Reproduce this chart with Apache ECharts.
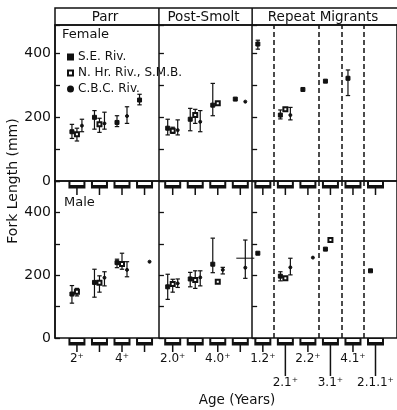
<!DOCTYPE html>
<html>
<head>
<meta charset="utf-8">
<script src="https://cdn.jsdelivr.net/npm/echarts@6/dist/echarts.min.js"></script>
<style>
  html, body { margin: 0; padding: 0; background: #fff; }
  #chart { width: 397px; height: 410px; }
</style>
</head>
<body>
<div id="chart"></div>
<script>
// Age classes along the x axis, grouped by life-history stage
const categories = ['2+', '3+', '4+', '5+', '2.0+', '3.0+', '4.0+', '5.0+', '1.2+', '2.1+', '2.2+', '3.1+', '4.1+', '2.1.1+'];
const categoryStage = [0, 0, 0, 0, 1, 1, 1, 1, 2, 2, 2, 2, 2, 2];
const stages = ['Parr', 'Post-Smolt', 'Repeat Migrants'];
const tickLabels = ['2⁺', '', '4⁺', '', '2.0⁺', '', '4.0⁺', '', '1.2⁺', '2.1⁺', '2.2⁺', '3.1⁺', '4.1⁺', '2.1.1⁺'];
// dashed dividers inside the repeat-migrant block, drawn after these classes
const dividersAfter = [8, 10, 11, 12];
const rivers = ['S.E. Riv.', 'N. Hr. Riv., S.M.B.', 'C.B.C. Riv.'];

// Fork length (mm) — females
const femaleSEMean = [154, 199, 183, 253, 165, 193, 237, 256, 428, 206, 286, 312, 321, null];
const femaleSELow  = [133, 162, 170, 238, 144, 157, 204, null, 412, 194, null, null, 267, null];
const femaleSEHigh = [177, 220, 204, 271, 193, 227, 305, null, 440, 222, null, null, 347, null];

const femaleNHMean = [146, 177, null, null, 157, 206, 243, null, null, 224, null, null, null, null];
const femaleNHLow  = [125, 152, null, null, 149, 180, null, null, null, null, null, null, null, null];
const femaleNHHigh = [165, 196, null, null, 168, 224, null, null, null, null, null, null, null, null];

const femaleCBCMean = [173, 180, 203, null, 159, 185, null, 248, null, 206, null, null, null, null];
const femaleCBCLow  = [154, 162, 180, null, 144, 154, null, null, null, 191, null, null, null, null];
const femaleCBCHigh = [193, 215, 232, null, 191, 220, null, null, null, 230, null, null, null, null];

// Fork length (mm) — males
const maleSEMean = [140, 177, 240, null, 163, 188, 235, null, 270, 197, null, 283, null, 214];
const maleSELow  = [111, 130, 224, null, 123, 163, 208, null, null, 182, null, null, null, null];
const maleSEHigh = [167, 219, 251, null, 203, 209, 318, null, null, 211, null, null, null, null];

const maleNHMean = [147, 176, 236, null, 172, 185, 179, null, null, 190, null, 312, null, null];
const maleNHLow  = [134, 146, 219, null, 146, 158, null, null, null, null, null, null, null, null];
const maleNHHigh = [158, 198, 270, null, 187, 214, null, null, null, null, null, null, null, null];

const maleCBCMean = [null, 192, 217, 243, 174, 193, 217, 224, null, 225, 256, null, null, null];
const maleCBCLow  = [null, 166, 195, null, 161, 166, 204, 190, null, 201, null, null, null, null];
const maleCBCHigh = [null, 211, 243, null, 188, 214, 225, 312, null, 254, null, null, null, null];

// pooled male mean for the oldest post-smolt class
const malePooledMean = [null, null, null, null, null, null, null, 254, null, null, null, null, null, null];

// ---------- layout ----------
const FONT = 'DejaVu Sans';
const INK = '#111';
const GL = 55, GW = 343;                 // shared left edge / width of both panels
const panels = [
  { top: 25, height: 156, yMax: 487.5 },  // female
  { top: 181, height: 157, yMax: 500 }    // male
];
// x positions: one unit per age class, a small extra gap after the parr block
const pos = categories.map((c, i) => i + (categoryStage[i] > 0 ? 0.25 : 0));
const xMin = -0.9735, xMax = 14.204;
const pxOf = v => GL + (v - xMin) / (xMax - xMin) * GW;

// stage boundaries sit midway between the neighbouring classes
const stageSeps = [];
for (let i = 1; i < categories.length; i++) {
  if (categoryStage[i] !== categoryStage[i - 1]) stageSeps.push((pos[i - 1] + pos[i]) / 2);
}
const dividerVals = dividersAfter.map(i => (pos[i] + pos[i + 1]) / 2);

const lineStyle = { color: INK, width: 1.5 };

const grids = panels.map(p => ({
  left: GL, top: p.top, width: GW, height: p.height,
  show: true, borderColor: INK, borderWidth: 1.5, backgroundColor: 'transparent'
}));

const xAxes = panels.map((p, g) => ({
  gridIndex: g, type: 'value', min: xMin, max: xMax,
  axisLine: { show: false, onZero: false }, axisTick: { show: false }, splitLine: { show: false },
  axisLabel: g === 1 ? {
    show: true,
    // an empty slot at the axis end keeps the last class label from being dropped
    customValues: pos.concat([xMax]),
    showMinLabel: true, showMaxLabel: false, hideOverlap: false,
    fontFamily: FONT, fontSize: 12, color: INK, lineHeight: 24, margin: 9,
    formatter: v => {
      const i = pos.findIndex(q => Math.abs(q - v) < 1e-6);
      if (i < 0) return '';
      const t = tickLabels[i];
      // repeat-migrant labels alternate between two rows
      const inRepeat = categoryStage[i] === 2;
      const k = i - categoryStage.indexOf(2);
      return inRepeat && k % 2 === 1 ? '\n' + t : t;
    }
  } : { show: false }
}));

const yAxes = [];
panels.forEach((p, g) => {
  const base = {
    gridIndex: g, type: 'value', position: 'left', min: 0, max: p.yMax, interval: 100,
    axisLine: { show: true, onZero: false, lineStyle },
    axisTick: { show: true, inside: true, length: 5, lineStyle: { color: INK, width: 1.3 } },
    splitLine: { show: false }
  };
  yAxes.push(Object.assign({}, base, {
    axisLabel: {
      show: true, fontFamily: FONT, fontSize: 14, color: INK, margin: 4,
      formatter: v => (v % 200 === 0 ? String(v) : '')
    }
  }));
  stageSeps.forEach(s => {
    yAxes.push(Object.assign({}, base, {
      offset: -(pxOf(s) - GL),
      axisLabel: { show: false }
    }));
  });
});
const mainY = g => g * (1 + stageSeps.length);

// ---------- marks ----------
const shortBox = 'path://M0,0L17,0L17,7.5L0,7.5Z M2,1L2,4L15,4L15,1Z M7.75,7.5L9.25,7.5L9.25,14L7.75,14Z';
const longBox = 'path://M0,0L17,0L17,7.5L0,7.5Z M2,1L2,4L15,4L15,1Z M7.75,7.5L9.25,7.5L9.25,38L7.75,38Z';

function errorBar(dx) {
  return function (params, api) {
    const x = api.value(0);
    const lo = api.coord([x, api.value(1)]);
    const hi = api.coord([x, api.value(2)]);
    const cx = lo[0] + dx, w = 2.2;
    const st = { stroke: INK, lineWidth: 1.2 };
    return {
      type: 'group', children: [
        { type: 'line', shape: { x1: cx, y1: lo[1], x2: cx, y2: hi[1] }, style: st },
        { type: 'line', shape: { x1: cx - w, y1: hi[1], x2: cx + w, y2: hi[1] }, style: st },
        { type: 'line', shape: { x1: cx - w, y1: lo[1], x2: cx + w, y2: lo[1] }, style: st }
      ]
    };
  };
}

const riverStyle = [
  { symbol: 'rect', size: 4, dx: -5 },
  { symbol: 'emptyRect', size: 4, dx: 0 },
  { symbol: 'circle', size: 3, dx: 5 }
];

const sexData = [
  [[femaleSEMean, femaleSELow, femaleSEHigh], [femaleNHMean, femaleNHLow, femaleNHHigh], [femaleCBCMean, femaleCBCLow, femaleCBCHigh]],
  [[maleSEMean, maleSELow, maleSEHigh], [maleNHMean, maleNHLow, maleNHHigh], [maleCBCMean, maleCBCLow, maleCBCHigh]]
];

const series = [];
panels.forEach((p, g) => {
  // category boxes hanging from the zero line, with dashed dividers
  const firstRepeat = categoryStage.indexOf(2);
  series.push({
    type: 'scatter', xAxisIndex: g, yAxisIndex: mainY(g), clip: false, silent: true, z: 4,
    data: pos.map((x, i) => {
      const low = g === 1 && categoryStage[i] === 2 && (i - firstRepeat) % 2 === 1;
      return { value: [x, 0], symbol: low ? longBox : shortBox, symbolSize: low ? [17, 38] : [17, 14], symbolOffset: low ? [0, 19] : [0, 7] };
    }),
    itemStyle: { color: INK, opacity: 1 },
    markLine: {
      silent: true, symbol: 'none', label: { show: false },
      lineStyle: { color: INK, width: 1.5, type: [5, 3] },
      data: dividerVals.map(v => ({ xAxis: v }))
    }
  });

  sexData[g].forEach((arr, r) => {
    const [mean, low, high] = arr;
    const rs = riverStyle[r];
    series.push({
      type: 'custom', xAxisIndex: g, yAxisIndex: mainY(g), z: 2, silent: true,
      renderItem: errorBar(rs.dx),
      encode: { x: 0, y: [1, 2] },
      data: pos.map((x, i) => [x, low[i], high[i]]).filter(d => d[1] != null && d[2] != null)
    });
    series.push({
      name: rivers[r], type: 'scatter', xAxisIndex: g, yAxisIndex: mainY(g), z: 3,
      symbol: rs.symbol, symbolSize: rs.size, symbolOffset: [rs.dx, 0],
      itemStyle: { color: INK, borderColor: INK, borderWidth: 1, opacity: 1 },
      data: pos.map((x, i) => [x, mean[i]]).filter(d => d[1] != null)
    });
  });
});

// pooled male mean drawn as a wide horizontal dash
series.push({
  type: 'scatter', xAxisIndex: 1, yAxisIndex: mainY(1), z: 3, silent: true,
  symbol: 'rect', symbolSize: [18, 1.3], symbolOffset: [5, 0],
  itemStyle: { color: INK },
  data: pos.map((x, i) => [x, malePooledMean[i]]).filter(d => d[1] != null)
});

// ---------- header strip, titles ----------
const headerTop = 8, headerBottom = panels[0].top;
const bounds = [GL].concat(stageSeps.map(pxOf), [GL + GW]);
const graphics = [
  { type: 'rect', shape: { x: GL, y: headerTop, width: GW, height: headerBottom - headerTop },
    style: { fill: 'none', stroke: INK, lineWidth: 1.5 } }
];
stageSeps.forEach(s => {
  const x = pxOf(s);
  graphics.push({ type: 'line', shape: { x1: x, y1: headerTop, x2: x, y2: headerBottom }, style: { stroke: INK, lineWidth: 1.5 } });
});
stages.forEach((name, k) => {
  graphics.push({
    type: 'text', x: (bounds[k] + bounds[k + 1]) / 2 - 2, y: (headerTop + headerBottom) / 2 + 0.5,
    style: { text: name, fontFamily: FONT, fontSize: 13.5, fill: INK, align: 'center', verticalAlign: 'middle' }
  });
});
graphics.push(
  { type: 'text', x: 62, y: 35, style: { text: 'Female', fontFamily: FONT, fontSize: 13, fill: INK, verticalAlign: 'middle' } },
  { type: 'text', x: 64, y: 203, style: { text: 'Male', fontFamily: FONT, fontSize: 13, fill: INK, verticalAlign: 'middle' } },
  { type: 'text', x: 13, y: 181, rotation: Math.PI / 2,
    style: { text: 'Fork Length (mm)', fontFamily: FONT, fontSize: 14, fill: INK, align: 'center', verticalAlign: 'middle' } },
  { type: 'text', x: 237, y: 400,
    style: { text: 'Age (Years)', fontFamily: FONT, fontSize: 13.5, fill: INK, align: 'center', verticalAlign: 'middle' } }
);

const chart = echarts.init(document.getElementById('chart'), null, { renderer: 'canvas' });
chart.setOption({
  animation: false,
  backgroundColor: '#fff',
  grid: grids,
  xAxis: xAxes,
  yAxis: yAxes,
  legend: {
    data: rivers.map((n, k) => ({ name: n, icon: ['rect', 'emptyRect', 'circle'][k] })),
    orient: 'vertical', left: 62, top: 44, itemWidth: 5, itemHeight: 5, itemGap: 0,
    selectedMode: false,
    textStyle: { fontFamily: FONT, fontSize: 12, lineHeight: 16, color: INK }
  },
  series: series,
  graphic: graphics
});
</script>
</body>
</html>
